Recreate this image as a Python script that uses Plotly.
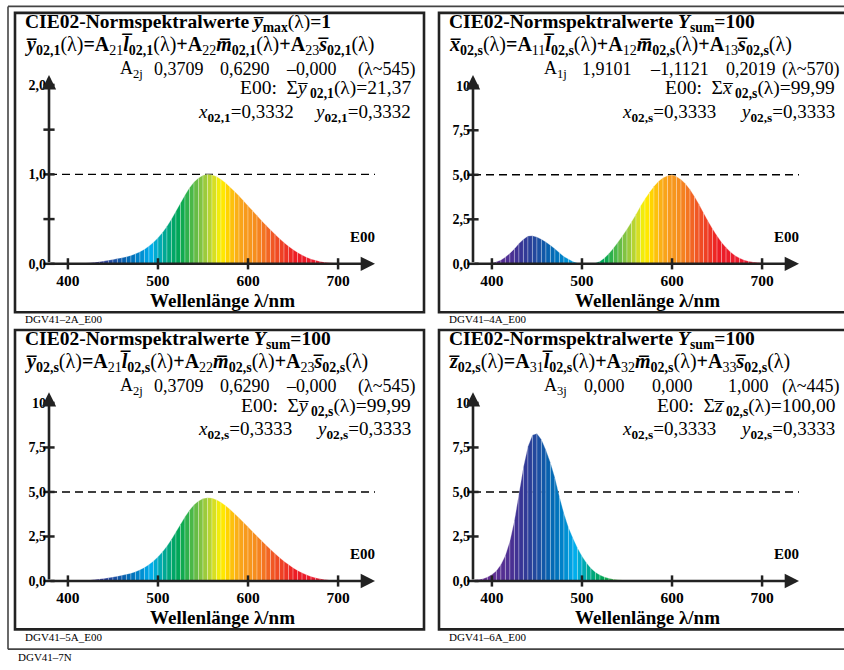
import plotly.graph_objects as go

# ---------------------------------------------------------------- data
wavelength = list(range(380, 725, 5))  # nm, 5-nm steps

# ybar_02,1 normalised to a maximum of 1
y_bar_max1 = [
    0.000, 0.000, 0.001, 0.001, 0.002, 0.003, 0.004, 0.006, 0.009, 0.013,
    0.018, 0.024, 0.031, 0.039, 0.048, 0.058, 0.068, 0.080, 0.094, 0.112,
    0.135, 0.163, 0.198, 0.240, 0.290, 0.350, 0.420, 0.500, 0.590, 0.680,
    0.770, 0.850, 0.915, 0.960, 0.990, 1.000, 0.995, 0.975, 0.945, 0.905,
    0.860, 0.810, 0.760, 0.705, 0.650, 0.595, 0.540, 0.485, 0.432, 0.380,
    0.330, 0.282, 0.238, 0.197, 0.160, 0.127, 0.098, 0.074, 0.054, 0.039,
    0.027, 0.018, 0.012, 0.008, 0.005, 0.003, 0.002, 0.001, 0.001,
]

# xbar_02,s with Y_sum = 100
x_bar_sum = [
    0.00, 0.00, 0.01, 0.02, 0.05, 0.11, 0.22, 0.38, 0.60, 0.85,
    1.14, 1.38, 1.56, 1.58, 1.50, 1.38, 1.23, 1.04, 0.84, 0.62,
    0.41, 0.27, 0.13, 0.05, 0.01, 0.00, 0.01, 0.05, 0.15, 0.33,
    0.58, 0.89, 1.22, 1.58, 1.95, 2.36, 2.78, 3.25, 3.65, 4.02,
    4.36, 4.64, 4.84, 4.95, 5.00, 4.90, 4.74, 4.49, 4.18, 3.78,
    3.34, 2.87, 2.41, 1.97, 1.57, 1.21, 0.91, 0.66, 0.46, 0.32,
    0.22, 0.14, 0.10, 0.07, 0.04, 0.03, 0.02, 0.01, 0.01,
]

# ybar_02,s with Y_sum = 100
y_bar_sum = [
    0.000, 0.000, 0.005, 0.005, 0.009, 0.014, 0.019, 0.028, 0.042, 0.061,
    0.084, 0.112, 0.145, 0.183, 0.225, 0.271, 0.318, 0.374, 0.440, 0.524,
    0.632, 0.763, 0.927, 1.123, 1.357, 1.638, 1.965, 2.340, 2.761, 3.182,
    3.603, 3.978, 4.282, 4.492, 4.633, 4.680, 4.656, 4.563, 4.422, 4.235,
    4.024, 3.790, 3.557, 3.299, 3.042, 2.784, 2.527, 2.270, 2.022, 1.778,
    1.544, 1.320, 1.114, 0.922, 0.749, 0.594, 0.459, 0.346, 0.253, 0.183,
    0.126, 0.084, 0.056, 0.037, 0.023, 0.014, 0.009, 0.005, 0.005,
]

# zbar_02,s with Y_sum = 100
z_bar_sum = [
    0.05, 0.08, 0.13, 0.22, 0.36, 0.58, 0.92, 1.45, 2.25, 3.40,
    4.90, 6.40, 7.55, 8.20, 8.28, 7.95, 7.35, 6.65, 5.80, 4.75,
    3.80, 3.02, 2.42, 1.86, 1.40, 1.02, 0.72, 0.49, 0.33, 0.22,
    0.15, 0.10, 0.07, 0.05, 0.03, 0.02, 0.02, 0.01, 0.01, 0.01,
    0.01, 0.00, 0.00, 0.00, 0.00, 0.00, 0.00, 0.00, 0.00, 0.00,
    0.00, 0.00, 0.00, 0.00, 0.00, 0.00, 0.00, 0.00, 0.00, 0.00,
    0.00, 0.00, 0.00, 0.00, 0.00, 0.00, 0.00, 0.00, 0.00,
]

x_ticks = [400, 500, 600, 700]
x_tick_text = ["400", "500", "600", "700"]
y_ticks_max1 = [0, 0.5, 1.0, 1.5, 2.0]
y_labels_max1 = {0: "0,0", 1.0: "1,0", 2.0: "2,0"}
y_ticks_sum = [0, 2.5, 5.0, 7.5, 10]
y_labels_sum = {0: "0,0", 2.5: "2,5", 5.0: "5,0", 7.5: "7,5", 10: "10"}

# ---------------------------------------------------------------- styling
W, H = 844, 670
FONT = "Liberation Serif"

# spectral colour anchors (nm, rgb)
SPECTRUM = [
    (380, "#6a2c8f"), (400, "#602d91"), (420, "#4d2f93"), (432, "#383495"),
    (442, "#2b3f99"), (452, "#1c4fa1"), (462, "#0860ad"), (472, "#0072bb"),
    (482, "#008ed2"), (492, "#00aeef"), (500, "#00aac4"), (506, "#00a99d"),
    (515, "#00a66e"), (525, "#00a651"), (535, "#3cb54a"), (545, "#74bf44"),
    (555, "#a8cf3a"), (563, "#d9e021"), (570, "#fff200"), (578, "#ffd200"),
    (586, "#fcb315"), (596, "#f89c1c"), (606, "#f6921e"), (616, "#f47a20"),
    (626, "#f15a24"), (640, "#ee3a24"), (652, "#ed1c24"), (680, "#ea1c31"),
    (720, "#df1f45"),
]


def spectral_colour(wl):
    pts = SPECTRUM
    if wl <= pts[0][0]:
        return pts[0][1]
    for (w0, c0), (w1, c1) in zip(pts, pts[1:]):
        if w0 <= wl <= w1:
            t = (wl - w0) / (w1 - w0)
            a = [int(c0[k:k + 2], 16) for k in (1, 3, 5)]
            b = [int(c1[k:k + 2], 16) for k in (1, 3, 5)]
            r = [round(a[i] + (b[i] - a[i]) * t) for i in range(3)]
            return "rgb(%d,%d,%d)" % tuple(r)
    return pts[-1][1]


def px(x):
    return x / W


def py(y):
    return 1 - y / H


def ov(ch):
    # letter with a combining overline
    return ch + "\u0305"


# pixel offsets of each panel relative to the top-left one
PANELS = [
    dict(ox=0, oy=0, vals=y_bar_max1, top=2.11, ticks=y_ticks_max1, labels=y_labels_max1, ref=1.0),
    dict(ox=424, oy=0, vals=x_bar_sum, top=10.6, ticks=y_ticks_sum, labels=y_labels_sum, ref=5.0),
    dict(ox=0, oy=321, vals=y_bar_sum, top=10.6, ticks=y_ticks_sum, labels=y_labels_sum, ref=5.0),
    dict(ox=424, oy=321, vals=z_bar_sum, top=10.6, ticks=y_ticks_sum, labels=y_labels_sum, ref=5.0),
]
X0, X1 = 379, 741

fig = go.Figure()
layout = dict(
    width=W, height=H, margin=dict(l=0, r=0, t=0, b=0),
    paper_bgcolor="white", plot_bgcolor="rgba(0,0,0,0)",
    showlegend=False, font=dict(family=FONT, color="black"),
)
annotations = []
shapes = []


def place(ox, oy, x, y, s, size=18, anchor="left"):
    annotations.append(dict(
        x=px(x + ox), y=py(y + oy), xref="paper", yref="paper", text=s,
        showarrow=False, xanchor=anchor, yanchor="middle",
        font=dict(family=FONT, size=size, color="black"),
    ))


for k, p in enumerate(PANELS):
    n = k + 1
    xa = "x" if n == 1 else "x%d" % n
    ya = "y" if n == 1 else "y%d" % n
    ox, oy = p["ox"], p["oy"]
    layout["xaxis" if n == 1 else "xaxis%d" % n] = dict(
        domain=[px(49 + ox), px(375 + ox)], range=[X0, X1], anchor=ya,
        showgrid=False, zeroline=False, showline=False,
        tickvals=x_ticks, ticktext=x_tick_text, ticks="", ticklabelstandoff=6,
        tickfont=dict(family=FONT, size=15.5, color="black", weight="bold"),
    )
    layout["yaxis" if n == 1 else "yaxis%d" % n] = dict(
        domain=[py(267 + oy), py(76 + oy)], range=[0, p["top"]], anchor=xa,
        showgrid=False, zeroline=False, showline=False,
        tickvals=list(p["labels"].keys()), ticktext=list(p["labels"].values()),
        ticks="", ticklabelstandoff=2,
        tickfont=dict(family=FONT, size=14, color="black", weight="bold"),
    )

    # dashed reference level
    fig.add_trace(go.Scatter(
        x=[X0, X1], y=[p["ref"], p["ref"]], xaxis=xa, yaxis=ya, mode="lines",
        line=dict(color="black", width=1.4, dash="8px,5px"), hoverinfo="skip",
    ))

    # spectrally coloured area, one strip per 5-nm interval
    v = p["vals"]
    for i in range(len(wavelength) - 1):
        if v[i] <= 0 and v[i + 1] <= 0:
            continue
        w0, w1 = wavelength[i], wavelength[i + 1]
        fig.add_trace(go.Scatter(
            x=[w0, w0, w1, w1, w0], y=[0, v[i], v[i + 1], 0, 0],
            xaxis=xa, yaxis=ya, mode="lines", fill="toself",
            fillcolor=spectral_colour((w0 + w1) / 2),
            line=dict(width=0.6, color="rgba(255,255,255,0.45)"),
            hoverinfo="skip",
        ))

    # tick marks crossing the axes
    fig.add_trace(go.Scatter(
        x=x_ticks, y=[0] * len(x_ticks), xaxis=xa, yaxis=ya, mode="markers",
        marker=dict(symbol="line-ns", size=8, line=dict(width=2.5, color="#222")),
        cliponaxis=False, hoverinfo="skip",
    ))
    fig.add_trace(go.Scatter(
        x=[X0] * len(p["ticks"]), y=p["ticks"], xaxis=xa, yaxis=ya, mode="markers",
        marker=dict(symbol="line-ew", size=8, line=dict(width=2.5, color="#222")),
        cliponaxis=False, hoverinfo="skip",
    ))

    # axes with arrow heads
    annotations.append(dict(
        x=X1, y=0, ax=X0, ay=0, xref=xa, yref=ya, axref=xa, ayref=ya,
        showarrow=True, arrowhead=2, arrowsize=1.1, arrowwidth=2.6,
        arrowcolor="#222", text="", standoff=0,
    ))
    annotations.append(dict(
        x=X0, y=p["top"], ax=X0, ay=0, xref=xa, yref=ya, axref=xa, ayref=ya,
        showarrow=True, arrowhead=2, arrowsize=1.1, arrowwidth=2.6,
        arrowcolor="#222", text="", standoff=0,
    ))

    # frame around the panel
    shapes.append(dict(
        type="rect", xref="paper", yref="paper",
        x0=px(15 + ox), x1=px(424 + ox if ox == 0 else 860),
        y0=py(13 + oy), y1=py(316 + oy),
        line=dict(color="#222", width=2.6),
    ))

    # axis title and series label
    place(ox, oy, 223, 304, "<b>Wellenlänge λ/nm</b>", 19, "center")
    place(ox, oy, 377, 240, "<b>E00</b>", 15, "right")


# ---------------------------------------------------------------- panel texts
def equation(sym, sub, row):
    return ("<b><i>%s</i><sub>%s</sub></b>(λ)<b>=A</b><sub>%d1</sub>"
            "<b><i>%s</i><sub>%s</sub></b>(λ)<b>+A</b><sub>%d2</sub>"
            "<b><i>%s</i><sub>%s</sub></b>(λ)<b>+A</b><sub>%d3</sub>"
            "<b><i>%s</i><sub>%s</sub></b>(λ)") % (
        ov(sym), sub, row, ov("l"), sub, row, ov("m"), sub, row, ov("s"), sub)


texts = [
    dict(ox=0, oy=0,
         title="<b>CIE02-Normspektralwerte <i>%s</i><sub>max</sub></b>(λ)<b>=1</b>" % ov("y"),
         eq=equation("y", "02,1", 2), arow="2j",
         coef=["0,3709", "0,6290", "–0,000"], lam="(λ~545)",
         sum="E00:  Σ<i>%s</i><b><sub> 02,1</sub></b>(λ)=21,37" % ov("y"),
         sub="02,1", xy=("0,3332", "0,3332")),
    dict(ox=424, oy=0,
         title="<b>CIE02-Normspektralwerte <i>Y</i><sub>sum</sub>=100</b>",
         eq=equation("x", "02,s", 1), arow="1j",
         coef=["1,9101", "–1,1121", "0,2019"], lam="(λ~570)",
         sum="E00:  Σ<i>%s</i><b><sub> 02,s</sub></b>(λ)=99,99" % ov("x"),
         sub="02,s", xy=("0,3333", "0,3333")),
    dict(ox=0, oy=321,
         title="<b>CIE02-Normspektralwerte <i>Y</i><sub>sum</sub>=100</b>",
         eq=equation("y", "02,s", 2), arow="2j",
         coef=["0,3709", "0,6290", "–0,000"], lam="(λ~545)",
         sum="E00:  Σ<i>%s</i><b><sub> 02,s</sub></b>(λ)=99,99" % ov("y"),
         sub="02,s", xy=("0,3333", "0,3333")),
    dict(ox=424, oy=321,
         title="<b>CIE02-Normspektralwerte <i>Y</i><sub>sum</sub>=100</b>",
         eq=equation("z", "02,s", 3), arow="3j",
         coef=["0,000", "0,000", "1,000"], lam="(λ~445)",
         sum="E00:  Σ<i>%s</i><b><sub> 02,s</sub></b>(λ)=100,00" % ov("z"),
         sub="02,s", xy=("0,3333", "0,3333")),
]
coef_x = [[152, 218, 284], [156, 224, 300], [152, 218, 284], [158, 226, 302]]
for t, cx in zip(texts, coef_x):
    ox, oy = t["ox"], t["oy"]
    place(ox, oy, 23, 23, t["title"], 19.5)
    place(ox, oy, 23, 46, t["eq"], 20)
    place(ox, oy, 118, 70, "A<sub>%s</sub>" % t["arow"], 18)
    for x, c in zip(cx, t["coef"]):
        place(ox, oy, x, 70, c, 18)
    place(ox, oy, 417, 70, t["lam"], 18, "right")
    place(ox, oy, 413, 90.5, t["sum"], 19.5, "right")
    place(ox, oy, 196, 114.5, "<i>x</i><b><sub>%s</sub></b>=%s" % (t["sub"], t["xy"][0]), 19)
    place(ox, oy, 413, 114.5, "<i>y</i><b><sub>%s</sub></b>=%s" % (t["sub"], t["xy"][1]), 19, "right")

# sheet codes
for x, y, s in [(23, 323, "DGV41–2A_E00"), (447, 323, "DGV41–4A_E00"),
                (23, 645, "DGV41–5A_E00"), (447, 645, "DGV41–6A_E00"),
                (16, 665, "DGV41–7N")]:
    place(0, 0, x, y, s, 11)

# outer sheet border
for x0, y0, x1, y1 in [(8, 6.5, 860, 6.5), (8, 6.5, 8, 657), (8, 657, 860, 657)]:
    shapes.append(dict(type="line", xref="paper", yref="paper",
                       x0=px(x0), y0=py(y0), x1=px(x1), y1=py(y1),
                       line=dict(color="#444", width=1.6)))

layout["annotations"] = annotations
layout["shapes"] = shapes
fig.update_layout(**layout)
fig.write_html("out.html")
